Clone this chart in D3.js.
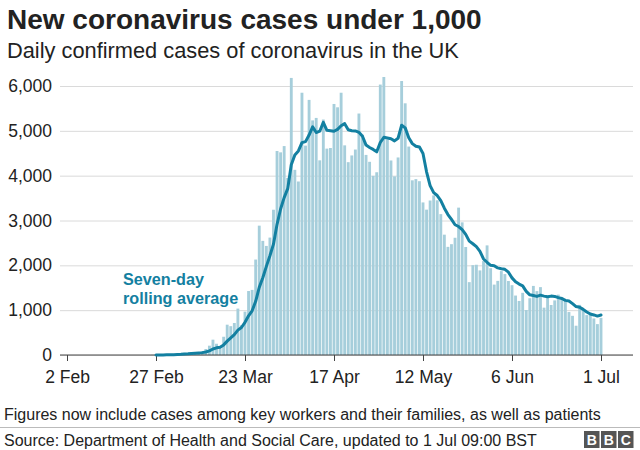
<!DOCTYPE html>
<html>
<head>
<meta charset="utf-8">
<script src="https://cdn.jsdelivr.net/npm/d3@7"></script>
<style>
  body { margin: 0; background: #fff; }
  text { font-family: "Liberation Sans", Arial, Helvetica, sans-serif; }
</style>
</head>
<body>
<div id="plot"></div>
<script>
// daily confirmed cases, one value per day starting 21 Feb 2020
const startDate = "2020-02-21";
const dailyCases = [
  0, 0, 0, 0, 0, 4, 2, 5, 3,                                  // 21-29 Feb
  13, 4, 11, 34, 29, 48, 43, 67, 48, 52, 83, 134, 208, 342, 251, 152,
  407, 676, 643, 714, 1035, 665, 967, 1427, 1452, 2129, 2885, 2546,
  2433, 2619, 3240,                                           // March
  4550, 4520, 4660, 3950, 6180, 4130, 3870, 5850, 4670, 5690, 5233,
  5288, 4342, 5252, 4603, 4617, 5599, 5525, 5850, 4676, 4301, 4451,
  4583, 5386, 4913, 4463, 4309, 3996, 4076, 6032,             // April
  6201, 4806, 4339, 3985, 4406, 6111, 5614, 4649, 3896, 3923, 3877,
  3403, 3242, 3446, 3560, 3450, 3142, 2684, 2412, 2472, 2615, 3287,
  2959, 2409, 1625, 2004, 2013, 1887, 2095, 2445, 1936,       // May
  1570, 1653, 1871, 1805, 1650, 1557, 1326, 1205, 1387, 1003, 1266,
  1541, 1425, 1514, 1056, 1279, 1115, 1218, 1346, 1295, 1221, 958,
  874, 653, 1118, 1006, 890, 901, 815, 689,                   // June
  829                                                         // 1 Jul
];
const xTickDates = ["2020-02-02", "2020-02-27", "2020-03-23", "2020-04-17", "2020-05-12", "2020-06-06", "2020-07-01"];
const yTicks = [0, 1000, 2000, 3000, 4000, 5000, 6000];

const width = 640;
const height = 450;
const barColor = "#a6cedb";
const lineColor = "#1380a1";

const parse = d3.utcParse("%Y-%m-%d");
const start = parse(startDate);
const data = dailyCases.map((v, i) => ({ date: d3.utcDay.offset(start, i), value: v }));

// seven-day rolling average of the daily figures
const rolling = data.slice(6).map((d, i) => ({
  date: d.date,
  value: d3.mean(data.slice(i, i + 7), e => e.value)
}));

const svg = d3.select("div#plot")
  .append("svg")
  .attr("width", width)
  .attr("height", height);

const x = d3.scaleUtc()
  .domain([parse(xTickDates[0]), parse(xTickDates[xTickDates.length - 1])])
  .range([67, 601]);

const y = d3.scaleLinear()
  .domain([0, 6000])
  .range([355, 86]);

// titles
svg.append("text")
  .attr("x", 7).attr("y", 29)
  .style("font-size", "28px").style("font-weight", "bold").style("fill", "#222")
  .text("New coronavirus cases under 1,000");

svg.append("text")
  .attr("x", 7).attr("y", 58)
  .style("font-size", "21.8px").style("fill", "#222")
  .text("Daily confirmed cases of coronavirus in the UK");

// y axis with gridlines
const yAxis = svg.append("g")
  .attr("transform", "translate(60,0)")
  .call(d3.axisLeft(y).tickValues(yTicks).tickSize(-573).tickPadding(8).tickFormat(d3.format(",")));
yAxis.select(".domain").remove();
yAxis.selectAll(".tick line").attr("stroke", "#dadada");
yAxis.selectAll(".tick text").style("font-size", "17.5px").style("fill", "#222");

// bars
const step = x(d3.utcDay.offset(start, 1)) - x(start);
svg.append("g")
  .selectAll("rect")
  .data(data)
  .enter().append("rect")
  .attr("x", d => x(d.date) - (step - 0.7) / 2)
  .attr("width", step - 0.7)
  .attr("y", d => y(d.value))
  .attr("height", d => y(0) - y(d.value))
  .attr("fill", barColor);

// x axis
const xAxis = svg.append("g")
  .attr("transform", "translate(0," + y(0) + ")")
  .call(d3.axisBottom(x).tickValues(xTickDates.map(parse)).tickSize(6).tickPadding(10)
    .tickFormat(d3.utcFormat("%-d %b")));
xAxis.select(".domain").remove();
xAxis.selectAll(".tick line").attr("stroke", "#444");
xAxis.selectAll(".tick text").style("font-size", "17.5px").style("fill", "#222");

svg.append("line")
  .attr("x1", 60).attr("x2", 633)
  .attr("y1", y(0)).attr("y2", y(0))
  .attr("stroke", "#444");

// rolling average line
const line = d3.line()
  .x(d => x(d.date))
  .y(d => y(d.value));

svg.append("path")
  .datum(rolling)
  .attr("d", line)
  .attr("fill", "none")
  .attr("stroke", lineColor)
  .attr("stroke-width", 3)
  .attr("stroke-linejoin", "round")
  .attr("stroke-linecap", "round");

// line label, two separate lines
svg.append("text")
  .attr("x", 123).attr("y", 285)
  .style("font-size", "16.2px").style("font-weight", "bold").style("fill", lineColor)
  .text("Seven-day");
svg.append("text")
  .attr("x", 123).attr("y", 304)
  .style("font-size", "16.2px").style("font-weight", "bold").style("fill", lineColor)
  .text("rolling average");

// footer
svg.append("text")
  .attr("x", 4).attr("y", 420)
  .style("font-size", "16px").style("fill", "#222")
  .text("Figures now include cases among key workers and their families, as well as patients");

svg.append("line")
  .attr("x1", 0).attr("x2", width)
  .attr("y1", 427.5).attr("y2", 427.5)
  .attr("stroke", "#bbb");

svg.append("text")
  .attr("x", 4).attr("y", 446)
  .style("font-size", "16px").style("fill", "#222")
  .text("Source: Department of Health and Social Care, updated to 1 Jul 09:00 BST");

// BBC blocks
const logo = svg.append("g").attr("transform", "translate(584,431)");
["B", "B", "C"].forEach((c, i) => {
  logo.append("rect")
    .attr("x", i * 17).attr("y", 0)
    .attr("width", 15.5).attr("height", 17)
    .attr("fill", "#555");
  logo.append("text")
    .attr("x", i * 17 + 7.75).attr("y", 14)
    .attr("text-anchor", "middle")
    .style("font-size", "14px").style("font-weight", "bold").style("fill", "#fff")
    .text(c);
});
</script>
</body>
</html>
